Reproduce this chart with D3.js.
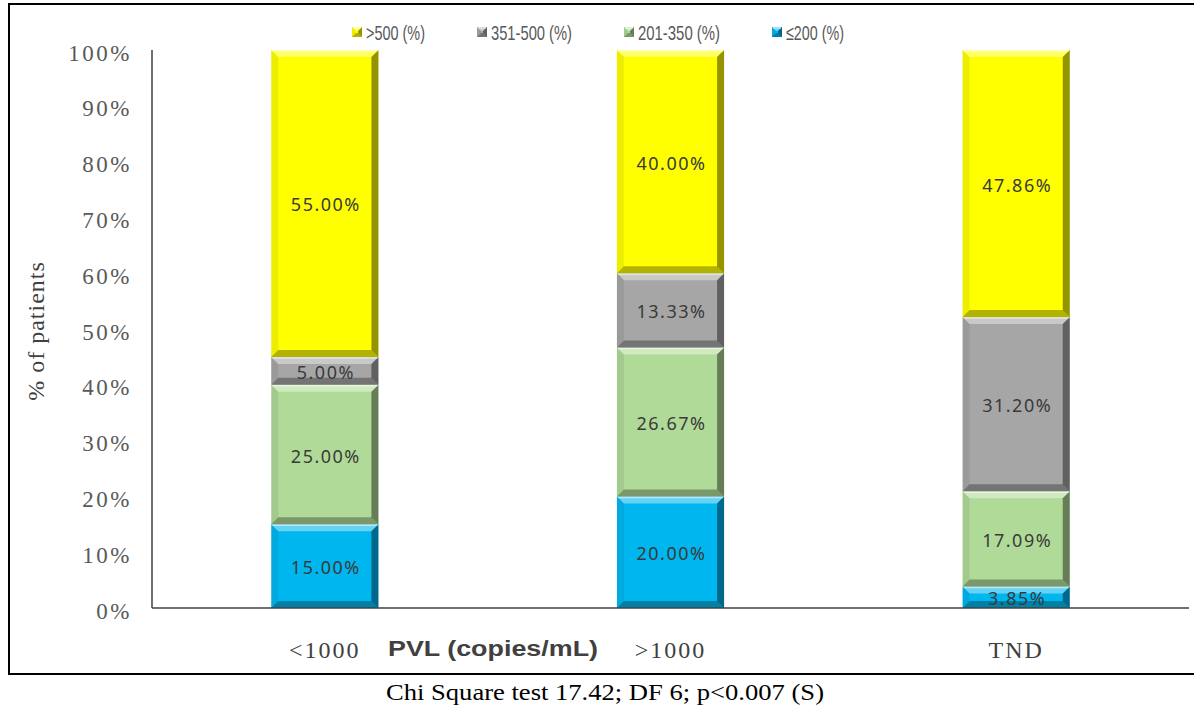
<!DOCTYPE html>
<html>
<head>
<meta charset="utf-8">
<script src="https://cdn.jsdelivr.net/npm/d3@7"></script>
<style>
  body { margin: 0; background: #fff; }
  svg { display: block; }
</style>
</head>
<body>
<svg id="chart"></svg>
<script>
// data
const categories = ["<1000", ">1000", "TND"];
const seriesKeys = ["le200", "r201", "r351", "gt500"];
const seriesNames = ["≤200 (%)", "201-350 (%)", "351-500 (%)", ">500 (%)"];
const le200 = [15.00, 20.00, 3.85];
const r201 = [25.00, 26.67, 17.09];
const r351 = [5.00, 13.33, 31.20];
const gt500 = [55.00, 40.00, 47.86];
const yTicks = [0, 10, 20, 30, 40, 50, 60, 70, 80, 90, 100];

const colors = {
  le200: "#00b6ef",
  r201: "#b0da98",
  r351: "#a6a6a6",
  gt500: "#ffff00"
};

const width = 1194, height = 708;
const svg = d3.select("#chart").attr("width", width).attr("height", height);

// outer frame
svg.append("rect")
  .attr("x", 9).attr("y", 4)
  .attr("width", 1200).attr("height", 670)
  .attr("fill", "none").attr("stroke", "#000").attr("stroke-width", 2);

const plot = { left: 152, right: 1189, top: 50, bottom: 608 };

const x = d3.scaleBand()
  .domain(categories)
  .range([plot.left, plot.right])
  .paddingInner(0.69)
  .paddingOuter(0.345);

const y = d3.scaleLinear().domain([0, 100]).range([plot.bottom, plot.top]);

const rows = categories.map((c, i) => ({
  cat: c, le200: le200[i], r201: r201[i], r351: r351[i], gt500: gt500[i]
}));
const stacked = d3.stack().keys(seriesKeys)(rows);

// bevelled segment
function bevel(g, x0, y0, w, h, fill) {
  const b = Math.min(7, h / 2.5);
  g.append("rect").attr("x", x0).attr("y", y0).attr("width", w).attr("height", h).attr("fill", fill);
  const x1 = x0 + w, y1 = y0 + h;
  const faces = [
    { pts: [[x0, y0], [x1, y0], [x1 - b, y0 + b], [x0 + b, y0 + b]], c: "#fff", o: 0.4 },
    { pts: [[x0, y1], [x1, y1], [x1 - b, y1 - b], [x0 + b, y1 - b]], c: "#000", o: 0.3 },
    { pts: [[x0, y0], [x0 + b, y0 + b], [x0 + b, y1 - b], [x0, y1]], c: "#000", o: 0.07 },
    { pts: [[x1, y0], [x1 - b, y0 + b], [x1 - b, y1 - b], [x1, y1]], c: "#000", o: 0.42 }
  ];
  faces.forEach(f => {
    g.append("polygon")
      .attr("points", f.pts.map(p => p.join(",")).join(" "))
      .attr("fill", f.c).attr("fill-opacity", f.o);
  });
  g.append("line")
    .attr("x1", x0 + 1).attr("x2", x1 - 1).attr("y1", y0 + 1).attr("y2", y0 + 1)
    .attr("stroke", "#fff").attr("stroke-opacity", 0.5).attr("stroke-width", 1.5);
}

// y axis labels
svg.append("g").selectAll("text")
  .data(yTicks)
  .enter().append("text")
    .attr("x", 132)
    .attr("y", d => y(d) + 3)
    .attr("text-anchor", "end")
    .attr("dominant-baseline", "central")
    .attr("font-family", "Liberation Serif, serif")
    .attr("font-size", 23)
    .attr("letter-spacing", 2.5)
    .attr("fill", "#595959")
    .text(d => d + "%");

// y axis title
svg.append("text")
  .attr("transform", "translate(44,331) rotate(-90)")
  .attr("text-anchor", "middle")
  .attr("font-family", "Liberation Serif, serif")
  .attr("font-size", 24)
  .attr("letter-spacing", 1)
  .attr("fill", "#404040")
  .text("% of patients");

// bars
const barG = svg.append("g");
stacked.forEach(layer => {
  layer.forEach(d => {
    const x0 = x(d.data.cat);
    const y0 = y(d[1]);
    const h = y(d[0]) - y(d[1]);
    bevel(barG, x0, y0, x.bandwidth(), h, colors[layer.key]);
  });
});

// data labels
stacked.forEach(layer => {
  barG.selectAll(null)
    .data(layer)
    .enter().append("text")
      .attr("x", d => x(d.data.cat) + x.bandwidth() / 2 + 1)
      .attr("y", d => y((d[0] + d[1]) / 2) + 1)
      .attr("text-anchor", "middle")
      .attr("dominant-baseline", "central")
      .attr("font-family", "Noto Sans, sans-serif")
      .attr("font-size", 18)
      .attr("letter-spacing", 1.5)
      .attr("fill", "#3a3a3a")
      .text(d => (d[1] - d[0]).toFixed(2) + "%");
});

// axis lines
svg.append("line")
  .attr("x1", plot.left).attr("x2", plot.left)
  .attr("y1", plot.top).attr("y2", plot.bottom)
  .attr("stroke", "#404040").attr("stroke-width", 1.5);
svg.append("line")
  .attr("x1", plot.left).attr("x2", plot.right)
  .attr("y1", plot.bottom).attr("y2", plot.bottom)
  .attr("stroke", "#404040").attr("stroke-width", 1.5);

// category labels
svg.append("g").selectAll("text")
  .data(categories)
  .enter().append("text")
    .attr("x", d => x(d) + x.bandwidth() / 2)
    .attr("y", 658)
    .attr("text-anchor", "middle")
    .attr("font-family", "Liberation Serif, serif")
    .attr("font-size", 24)
    .attr("letter-spacing", 2)
    .attr("fill", "#404040")
    .text(d => d);

// x axis title
svg.append("text")
  .attr("x", 388).attr("y", 656)
  .attr("textLength", 210).attr("lengthAdjust", "spacingAndGlyphs")
  .attr("font-family", "Liberation Sans, sans-serif")
  .attr("font-weight", "bold")
  .attr("font-size", 22)
  .attr("fill", "#404040")
  .text("PVL (copies/mL)");

// legend
const legendX = [772, 624, 477, 352];
const legendW = [58, 82, 81, 59];
const legend = svg.append("g");
seriesKeys.forEach((k, i) => {
  bevel(legend, legendX[i], 27, 10, 10, colors[k]);
  legend.append("text")
    .attr("x", legendX[i] + 14)
    .attr("y", 40)
    .attr("textLength", legendW[i]).attr("lengthAdjust", "spacingAndGlyphs")
    .attr("font-family", "Liberation Sans, sans-serif")
    .attr("font-size", 21)
    .attr("fill", "#595959")
    .text(seriesNames[i]);
});

// footnote
svg.append("text")
  .attr("x", 386).attr("y", 700)
  .attr("textLength", 438).attr("lengthAdjust", "spacingAndGlyphs")
  .attr("font-family", "Liberation Serif, serif")
  .attr("font-size", 24)
  .attr("fill", "#000")
  .text("Chi Square test 17.42; DF 6; p<0.007 (S)");
</script>
</body>
</html>
